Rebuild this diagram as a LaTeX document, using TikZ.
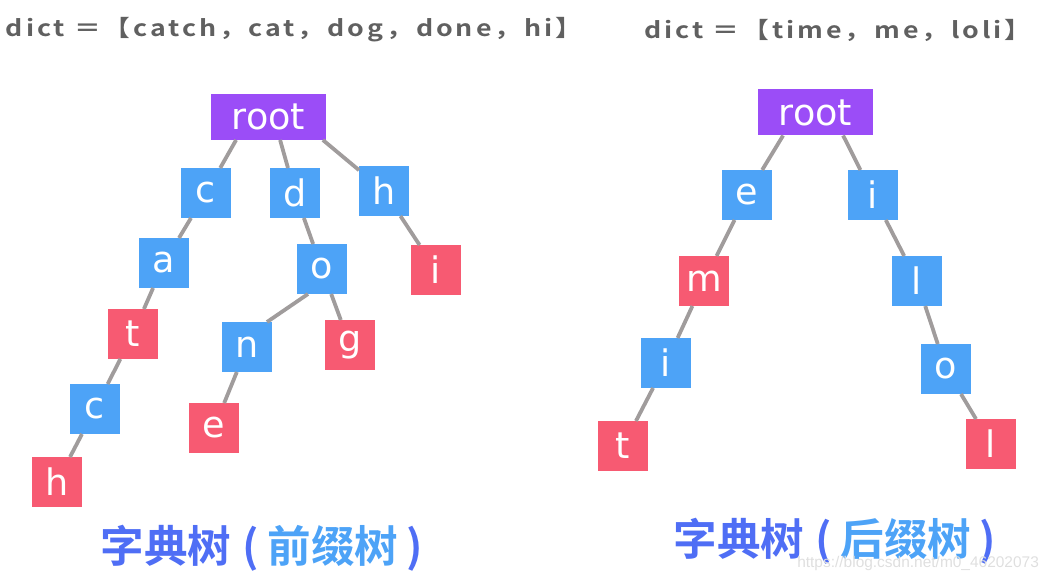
\documentclass[tikz,border=0pt]{standalone}
\usepackage{fontspec}
\usepackage{tikz}
\usetikzlibrary{positioning}
\setmainfont{DejaVu Sans}
\newfontfamily\dictfont{Noto Sans CJK SC Bold}[FakeStretch=1.19,LetterSpace=13]
\newfontfamily\titlefont{Noto Sans CJK SC Bold}
\newfontfamily\markfont{Liberation Sans}
\definecolor{rootpurple}{HTML}{9B4DF7}
\definecolor{nodeblue}{HTML}{4DA3F7}
\definecolor{endred}{HTML}{F75A72}
\definecolor{edgegray}{HTML}{A09C9C}
\definecolor{titleblue}{HTML}{4F6EF5}
\definecolor{dictgray}{HTML}{606060}

\begin{document}
\begin{tikzpicture}[
        x=0.25mm,
        y=-0.25mm,
        link/.style={draw=edgegray, line width=0.95mm},
        letter/.style={minimum width=12.5mm, minimum height=12.5mm, inner sep=0pt, outer sep=0pt, text=white, font=\fontsize{26}{26}\selectfont},
        midbox/.style={letter, fill=nodeblue},
        endbox/.style={letter, fill=endred},
        rootbox/.style={letter, fill=rootpurple, minimum width=28.75mm, minimum height=11.5mm},
        dict/.style={text=dictgray, inner sep=0pt, font=\dictfont\fontsize{16}{16}\selectfont},
        heading/.style={text=titleblue, inner sep=0pt, font=\titlefont\fontsize{31}{31}\selectfont}
    ]
        \useasboundingbox (0,0) rectangle (1053,581);

        \node[dict] (ldict) at (294,30) {dict ＝【catch，cat，dog，done，hi】};
        \node[dict] (rdict) at (838,30) {dict ＝【time，me，loli】};

        \node[rootbox] (lroot) at (268.5,117) {root};
        \node[midbox] (lc) at (206,193) {c};
        \node[midbox] (ld) at (295,193) {d};
        \node[midbox] (lh) at (384,191) {h};
        \node[midbox] (la) at (164,263) {a};
        \node[midbox] (lo) at (322,269) {o};
        \node[endbox] (li) at (436,270) {i};
        \node[endbox] (lt) at (133,334) {t};
        \node[midbox] (ln) at (247,347) {n};
        \node[endbox] (lg) at (350,345) {g};
        \node[midbox] (lc2) at (95,409) {c};
        \node[endbox] (le) at (214,428) {e};
        \node[endbox] (lh2) at (57,482) {h};

        \draw[link] ([xshift=-8.1mm]lroot.south) -- (lc);
        \draw[link] ([xshift=2.9mm]lroot.south) -- (ld);
        \draw[link] ([xshift=13.6mm]lroot.south) -- (lh);
        \draw[link] (lc) -- (la);
        \draw[link] (la) -- (lt);
        \draw[link] (lt) -- (lc2);
        \draw[link] (lc2) -- (lh2);
        \draw[link] (ld) -- (lo);
        \draw[link] ([xshift=-3.5mm]lo.south) -- ([xshift=5mm]ln.north);
        \draw[link] (lo) -- (lg);
        \draw[link] (ln) -- (le);
        \draw[link] (lh) -- (li);

        \node[rootbox] (rroot) at (815.5,112.5) {root};
        \node[midbox] (re) at (747,195) {e};
        \node[midbox] (ri) at (873,195) {i};
        \node[endbox] (rm) at (704,281) {m};
        \node[midbox] (rl) at (917,281) {l};
        \node[midbox] (ri2) at (666,363) {i};
        \node[midbox] (ro) at (946,369) {o};
        \node[endbox] (rt) at (623,446) {t};
        \node[endbox] (rl2) at (991,444) {l};

        \draw[link] ([xshift=-8.1mm]rroot.south) -- (re);
        \draw[link] ([xshift=6.9mm]rroot.south) -- (ri);
        \draw[link] (re) -- (rm);
        \draw[link] (rm) -- (ri2);
        \draw[link] (ri2) -- (rt);
        \draw[link] (ri) -- (rl);
        \draw[link] (rl) -- (ro);
        \draw[link] (ro) -- (rl2);

        \node[heading] (lhead) at (262,548) {字典树\hspace{0.25em}(\hspace{0.2em}\textcolor{nodeblue}{前缀树}\hspace{0.2em})};
        \node[heading] (rhead) at (835,541) {字典树\hspace{0.25em}(\hspace{0.2em}\textcolor{nodeblue}{后缀树}\hspace{0.2em})};
        \node[anchor=west, inner sep=0pt, text=gray!25, font=\markfont\fontsize{11}{11}\selectfont] (mark) at (797,563) {https://blog.csdn.net/m0\_46202073};
    \end{tikzpicture}
\end{document}
